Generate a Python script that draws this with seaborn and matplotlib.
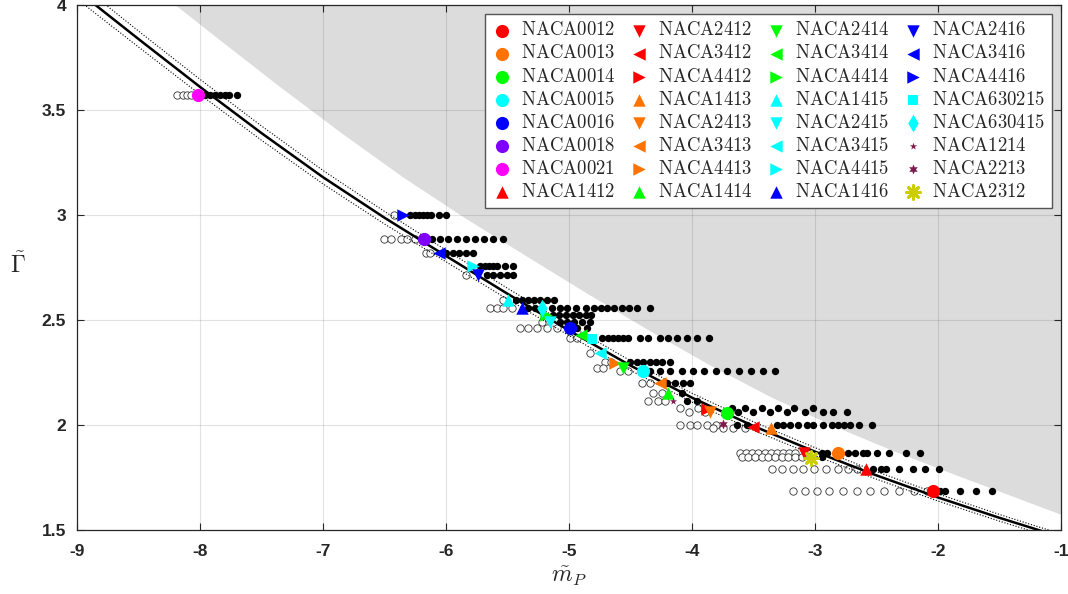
import matplotlib
matplotlib.use("Agg")
import matplotlib.pyplot as plt
import pandas as pd
import seaborn as sns

# ---- model curve with its +/- band -------------------------------------
curve_m = [-9.0, -8.85, -8.5, -8.0, -7.5, -7.0, -6.5, -6.0, -5.5, -5.0,
           -4.5, -4.0, -3.5, -3.0, -2.5, -2.0, -1.5, -1.2, -1.0]
curve_g = [4.070, 4.000, 3.838, 3.610, 3.390, 3.180, 2.987, 2.805, 2.625, 2.450,
           2.283, 2.130, 1.995, 1.873, 1.760, 1.655, 1.558, 1.503, 1.467]
upper_g = [4.111, 4.040, 3.876, 3.646, 3.424, 3.212, 3.017, 2.833, 2.651, 2.475,
           2.306, 2.151, 2.015, 1.892, 1.778, 1.672, 1.574, 1.518, 1.482]
lower_g = [4.029, 3.960, 3.800, 3.574, 3.356, 3.148, 2.957, 2.777, 2.599, 2.426,
           2.260, 2.109, 1.975, 1.854, 1.742, 1.638, 1.542, 1.488, 1.452]

# ---- boundary of the excluded (shaded) region ---------------------------
limit_m = [-8.35, -8.2, -7.85, -7.35, -6.85, -6.35, -5.85, -5.35, -4.85, -4.35,
           -3.85, -3.35, -2.85, -2.35, -1.85, -1.35, -0.85]
limit_g = [4.070, 4.000, 3.838, 3.610, 3.390, 3.180, 2.987, 2.805, 2.625, 2.450,
           2.283, 2.130, 1.995, 1.873, 1.760, 1.650, 1.540]

# ---- airfoil design points ----------------------------------------------
airfoils = ["NACA0012", "NACA0013", "NACA0014", "NACA0015", "NACA0016", "NACA0018",
            "NACA0021", "NACA1412", "NACA2412", "NACA3412", "NACA4412", "NACA1413",
            "NACA2413", "NACA3413", "NACA4413", "NACA1414", "NACA2414", "NACA3414",
            "NACA4414", "NACA1415", "NACA2415", "NACA3415", "NACA4415", "NACA1416",
            "NACA2416", "NACA3416", "NACA4416", "NACA630215", "NACA630415",
            "NACA1214", "NACA2213", "NACA2312"]
airfoil_m = [-2.043, -2.810, -3.718, -4.401, -4.992, -6.179, -8.019, -2.585,
             -3.090, -3.502, -3.875, -3.360, -3.854, -4.260, -4.626, -4.192,
             -4.558, -4.906, -5.187, -5.493, -5.154, -4.748, -5.783, -5.385,
             -5.737, -6.057, -6.350, -4.809, -5.222, -4.157, -3.745, -3.035]
airfoil_g = [1.686, 1.865, 2.059, 2.257, 2.460, 2.884, 3.571, 1.790,
             1.865, 1.992, 2.075, 1.987, 2.063, 2.198, 2.297, 2.151,
             2.273, 2.429, 2.524, 2.595, 2.492, 2.344, 2.759, 2.556,
             2.714, 2.821, 3.000, 2.410, 2.556, 2.114, 2.003, 1.841]

# ---- off-design samples, one row per Gamma level ------------------------
row_g = [3.571, 3.000, 2.884, 2.821, 2.759, 2.714, 2.595, 2.556, 2.524, 2.492,
         2.460, 2.413, 2.344, 2.301, 2.273, 2.257, 2.198, 2.151, 2.114, 2.079,
         2.060, 2.000, 1.985, 1.865, 1.846, 1.790, 1.686]
row_filled = [
    [-7.959, -7.919, -7.878, -7.837, -7.797, -7.764, -7.699],
    [-6.293, -6.252, -6.217, -6.185, -6.157, -6.122, -6.054, -6.000],
    [-6.116, -6.049, -5.981, -5.908, -5.837, -5.764, -5.691, -5.615, -5.539],
    [-6.000, -5.946, -5.892, -5.837, -5.783],
    [-5.724, -5.683, -5.648, -5.615, -5.583, -5.520, -5.458],
    [-5.669, -5.615, -5.561, -5.507, -5.453],
    [-5.431, -5.382, -5.333, -5.285, -5.236, -5.179, -5.122],
    [-5.333, -5.276, -5.138, -5.073, -5.016, -4.943, -4.862, -4.797, -4.740,
     -4.691, -4.634, -4.569, -4.512, -4.447, -4.341],
    [-5.128, -5.079, -5.024, -4.970, -4.916, -4.862, -4.824],
    [-5.073, -5.014, -4.959, -4.897, -4.829],
    [-4.937, -4.856],
    [-4.734, -4.680, -4.640, -4.599, -4.564, -4.518, -4.423, -4.355, -4.260,
     -4.192, -4.124, -4.042, -3.961, -3.860],
    [],
    [-4.504, -4.447, -4.398, -4.341, -4.293, -4.244, -4.179],
    [],
    [-4.341, -4.260, -4.179, -4.084, -3.995, -3.900, -3.805, -3.713, -3.618,
     -3.523, -3.425, -3.325],
    [-4.203, -4.138, -4.070, -4.016],
    [-4.084],
    [-4.043, -3.962],
    [-3.677, -3.569, -3.433, -3.298, -3.171, -3.014],
    [-3.624, -3.502, -3.366, -3.230, -3.081, -2.933, -2.851, -2.742],
    [-3.637, -3.556, -3.312, -3.263, -3.203, -3.136, -3.068, -3.014, -2.933,
     -2.864, -2.810, -2.764, -2.715, -2.640, -2.539],
    [],
    [-2.946, -2.902, -2.732, -2.675, -2.610, -2.577, -2.496, -2.398, -2.260, -2.146],
    [-2.946],
    [-2.528, -2.463, -2.423, -2.315, -2.207, -2.102, -1.992],
    [-1.984, -1.943, -1.821, -1.694, -1.564],
]
row_open = [
    [-8.187, -8.138, -8.106, -8.073],
    [-6.420],
    [-6.504, -6.450, -6.368, -6.315, -6.252],
    [-6.163, -6.130],
    [],
    [-5.837],
    [-5.537],
    [-5.642, -5.588, -5.534, -5.466],
    [],
    [-5.222],
    [-5.398, -5.331, -5.263, -5.182, -5.100],
    [-4.992, -4.937],
    [-4.829],
    [-4.707, -4.659],
    [-4.772, -4.724],
    [-4.585, -4.518],
    [-4.409, -4.341],
    [-4.320, -4.246],
    [-4.355, -4.274, -4.220],
    [-4.098, -3.949],
    [-4.022, -3.894],
    [-4.098, -4.016, -3.957, -3.881, -3.805],
    [-3.829, -3.748, -3.667, -3.569],
    [-3.610, -3.561, -3.515, -3.461, -3.407, -3.360, -3.312, -3.258, -3.209, -3.163],
    [-3.596, -3.542, -3.488, -3.433, -3.380, -3.325, -3.271, -3.217, -3.163, -3.109],
    [-3.352, -3.271, -3.182, -3.100, -3.008, -2.911, -2.811, -2.729, -2.656],
    [-3.176, -3.081, -2.986, -2.884, -2.770, -2.656, -2.553, -2.439, -2.315,
     -2.195, -2.092],
]

x_ticks = [-9, -8, -7, -6, -5, -4, -3, -2, -1]
y_ticks = [1.5, 2, 2.5, 3, 3.5, 4]
x_tick_labels = ["-9", "-8", "-7", "-6", "-5", "-4", "-3", "-2", "-1"]
y_tick_labels = ["1.5", "2", "2.5", "3", "3.5", "4"]

# ---- styles ----------------------------------------------------------------
RED, ORANGE, GREEN, CYAN = "#ff0000", "#ff7300", "#00ff00", "#00ffff"
BLUE, PURPLE, MAGENTA = "#0000ff", "#8000ff", "#ff00ff"
MAROON, OLIVE = "#7f1a4c", "#cccc00"
style_map = {
    "NACA0012": (RED, "o"), "NACA0013": (ORANGE, "o"), "NACA0014": (GREEN, "o"),
    "NACA0015": (CYAN, "o"), "NACA0016": (BLUE, "o"), "NACA0018": (PURPLE, "o"),
    "NACA0021": (MAGENTA, "o"),
    "NACA1412": (RED, "^"), "NACA2412": (RED, "v"), "NACA3412": (RED, "<"),
    "NACA4412": (RED, ">"),
    "NACA1413": (ORANGE, "^"), "NACA2413": (ORANGE, "v"), "NACA3413": (ORANGE, "<"),
    "NACA4413": (ORANGE, ">"),
    "NACA1414": (GREEN, "^"), "NACA2414": (GREEN, "v"), "NACA3414": (GREEN, "<"),
    "NACA4414": (GREEN, ">"),
    "NACA1415": (CYAN, "^"), "NACA2415": (CYAN, "v"), "NACA3415": (CYAN, "<"),
    "NACA4415": (CYAN, ">"),
    "NACA1416": (BLUE, "^"), "NACA2416": (BLUE, "v"), "NACA3416": (BLUE, "<"),
    "NACA4416": (BLUE, ">"),
    "NACA630215": (CYAN, "s"), "NACA630415": (CYAN, "d"),
    "NACA1214": (MAROON, "*"), "NACA2213": (MAROON, (6, 1, 0)),
    "NACA2312": (OLIVE, (8, 2, 0)),
}
size_map = {"o": 90, "^": 80, "v": 80, "<": 80, ">": 80, "s": 50, "d": 80, "*": 30}

sns.set_theme(style="white")
plt.rcParams["mathtext.fontset"] = "cm"
plt.rcParams["axes.unicode_minus"] = False
plt.rcParams["font.family"] = ["Liberation Sans", "DejaVu Sans"]

fig = plt.figure(figsize=(10.68, 5.94), dpi=100)
ax = fig.add_axes([77 / 1068, 1 - 530 / 594, 984 / 1068, 525 / 594])
ax.set_facecolor("white")

# shaded region above the limit
ax.fill_between(limit_m, limit_g, 4.5, color="#dcdcdc", linewidth=0, zorder=0.2)

# sample rows
filled_df = pd.DataFrame(
    [(m, g) for g, ms in zip(row_g, row_filled) for m in ms], columns=["m", "g"])
open_df = pd.DataFrame(
    [(m, g) for g, ms in zip(row_g, row_open) for m in ms], columns=["m", "g"])
sns.scatterplot(data=open_df, x="m", y="g", ax=ax, marker="o", s=28,
                facecolor="white", edgecolor="#333333", linewidth=0.6, zorder=2)
sns.scatterplot(data=filled_df, x="m", y="g", ax=ax, marker="o", s=28,
                color="black", edgecolor="black", linewidth=0, zorder=2.1)

# model curve and band
sns.lineplot(x=curve_m, y=curve_g, ax=ax, color="black", linewidth=1.8,
             sort=False, estimator=None, zorder=3)
for band in (upper_g, lower_g):
    sns.lineplot(x=curve_m, y=band, ax=ax, color="black", linewidth=0.8,
                 linestyle=(0, (1, 1.6)), sort=False, estimator=None, zorder=3)

# airfoil design points
for name, m, g in zip(airfoils, airfoil_m, airfoil_g):
    color, marker = style_map[name]
    label = r"$\mathrm{" + name + "}$"
    if marker == (8, 2, 0):
        sns.scatterplot(x=[m], y=[g], ax=ax, marker=marker, s=100, color=color,
                        linewidth=2.0, label=label, zorder=4)
    elif marker == (6, 1, 0):
        sns.scatterplot(x=[m], y=[g], ax=ax, marker=marker, s=50, color=color,
                        edgecolor=color, linewidth=0, label=label, zorder=4)
    else:
        sns.scatterplot(x=[m], y=[g], ax=ax, marker=marker, s=size_map[marker],
                        color=color, edgecolor=color, linewidth=0, label=label,
                        zorder=4)

ax.set_xlim(-9, -1)
ax.set_ylim(1.5, 4)
ax.set_xticks(x_ticks)
ax.set_xticklabels(x_tick_labels)
ax.set_yticks(y_ticks)
ax.set_yticklabels(y_tick_labels)
ax.grid(True, color="#262626", alpha=0.13, linewidth=0.8)
ax.set_axisbelow(False)
for ln in ax.get_xgridlines() + ax.get_ygridlines():
    ln.set_zorder(1)

ax.tick_params(direction="in", length=5, width=0.8, color="#262626",
               top=True, right=True, bottom=True, left=True,
               labelsize=12.5, labelcolor="#262626", pad=8)
ax.tick_params(axis="x", pad=10)
for lab in ax.get_xticklabels() + ax.get_yticklabels():
    lab.set_fontweight("bold")
for sp in ax.spines.values():
    sp.set_color("#262626")
    sp.set_linewidth(0.9)
    sp.set_zorder(5)

ax.set_xlabel(r"$\tilde{m}_P$", fontsize=17, color="#262626", labelpad=4)
ax.set_ylabel(r"$\tilde{\Gamma}$", fontsize=17, color="#262626",
              rotation=0, ha="center", va="center")
ax.yaxis.set_label_coords(-0.06, 0.505)

handles, labels = ax.get_legend_handles_labels()
leg = ax.legend(handles, labels, ncol=4, loc="upper right",
                bbox_to_anchor=(0.991, 0.983), borderaxespad=0, fontsize=13.5,
                frameon=True, fancybox=False, edgecolor="#555555", framealpha=1,
                handlelength=1.0, handletextpad=0.5, columnspacing=0.75,
                labelspacing=0.27, borderpad=0.4)
leg.get_frame().set_linewidth(1.0)
leg.set_zorder(6)

fig.savefig("out.png", dpi=100)
